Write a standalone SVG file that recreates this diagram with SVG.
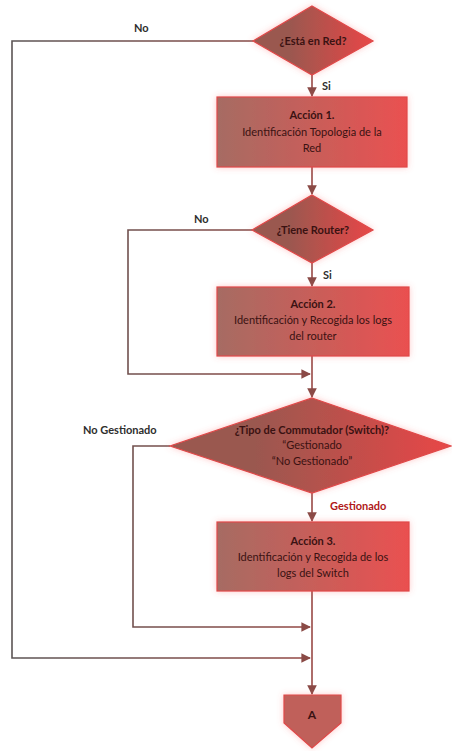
<svg xmlns="http://www.w3.org/2000/svg" width="452" height="751" viewBox="0 0 452 751">
<style>
text{font-family:Lato,"Open Sans","Liberation Sans",sans-serif;font-size:11px;fill:#3a1212;text-anchor:middle}
.b{font-weight:bold}
.lbl{font-weight:bold;fill:#2e2e2e;text-anchor:start}
.red{fill:#b01818}
.wire{fill:none;stroke:url(#wg);stroke-width:1.6}
.shape{stroke:#e04848;stroke-width:1.2;filter:url(#glow)}
</style>
<defs>
<linearGradient id="wg" gradientUnits="userSpaceOnUse" x1="0" y1="0" x2="452" y2="0">
<stop offset="0" stop-color="#595555"/><stop offset="0.6" stop-color="#8a4a46"/><stop offset="1" stop-color="#c84040"/>
</linearGradient>
<linearGradient id="bg" x1="0" y1="0" x2="1" y2="0">
<stop offset="0" stop-color="#a66c63"/><stop offset="1" stop-color="#ea5050"/>
</linearGradient>
<linearGradient id="dg" x1="0" y1="0" x2="1" y2="0">
<stop offset="0.3" stop-color="#9a5850"/><stop offset="1" stop-color="#e84646"/>
</linearGradient>
<filter id="glow" x="-20%" y="-30%" width="140%" height="160%">
<feGaussianBlur in="SourceAlpha" stdDeviation="3" result="b"/>
<feFlood flood-color="#ff6060" flood-opacity="0.35"/>
<feComposite in2="b" operator="in" result="g"/>
<feMerge><feMergeNode in="g"/><feMergeNode in="SourceGraphic"/></feMerge>
</filter>
<marker id="ah" viewBox="0 0 10 10" refX="9" refY="5" markerWidth="6" markerHeight="6" orient="auto">
<path d="M0,0 L10,5 L0,10 z" fill="#8a4a46"/>
</marker>
</defs>
<g id="connectors">
<path class="wire" d="M253,41 H12 V658 H310" marker-end="url(#ah)"/>
<path class="wire" d="M312,75 V96" marker-end="url(#ah)"/>
<path class="wire" d="M312,167 V194" marker-end="url(#ah)"/>
<path class="wire" d="M252,230 H128 V374 H310" marker-end="url(#ah)"/>
<path class="wire" d="M312,263 V286" marker-end="url(#ah)"/>
<path class="wire" d="M312,356 V397" marker-end="url(#ah)"/>
<path class="wire" d="M170,446 H133 V627 H310" marker-end="url(#ah)"/>
<path class="wire" d="M312,493 V521" marker-end="url(#ah)"/>
<path class="wire" d="M312,591 V694" marker-end="url(#ah)"/>
<text class="lbl" x="134" y="32">No</text>
<text class="lbl" x="322" y="90">Si</text>
<text class="lbl" x="194" y="223">No</text>
<text class="lbl" x="323" y="279">Si</text>
<text class="lbl" x="83" y="434">No Gestionado</text>
<text class="lbl red" x="330" y="510">Gestionado</text>
</g>
<g id="d1">
<polygon class="shape" points="312,6 373,41 312,75 253,41" fill="url(#dg)"/>
<text class="b" x="313" y="45">¿Está en Red?</text>
</g>
<g id="a1">
<rect class="shape" x="217" y="97" width="190" height="70" fill="url(#bg)"/>
<text class="b" x="312" y="119">Acción 1.</text>
<text x="312" y="136">Identificación Topologia de la</text>
<text x="312" y="152">Red</text>
</g>
<g id="d2">
<polygon class="shape" points="312,195 373,230 312,263 252,230" fill="url(#dg)"/>
<text class="b" x="313" y="234">¿Tiene Router?</text>
</g>
<g id="a2">
<rect class="shape" x="217" y="287" width="192" height="69" fill="url(#bg)"/>
<text class="b" x="313" y="308">Acción 2.</text>
<text x="313" y="324">Identificación y Recogida los logs</text>
<text x="313" y="340">del router</text>
</g>
<g id="d3">
<polygon class="shape" points="312,398 451,446 312,493 170,446" fill="url(#dg)"/>
<text class="b" x="312" y="434">¿Tipo de Commutador (Switch)?</text>
<text x="312" y="449">“Gestionado</text>
<text x="312" y="465">“No Gestionado”</text>
</g>
<g id="a3">
<rect class="shape" x="217" y="522" width="192" height="69" fill="url(#bg)"/>
<text class="b" x="313" y="545">Acción 3.</text>
<text x="313" y="561">Identificación y Recogida de los</text>
<text x="313" y="577">logs del Switch</text>
</g>
<g id="A">
<polygon class="shape" points="284,695 341,695 341,723 312,748 284,723" fill="#c0605a"/>
<text class="b" x="312" y="719" style="font-size:12px">A</text>
</g>
</svg>
